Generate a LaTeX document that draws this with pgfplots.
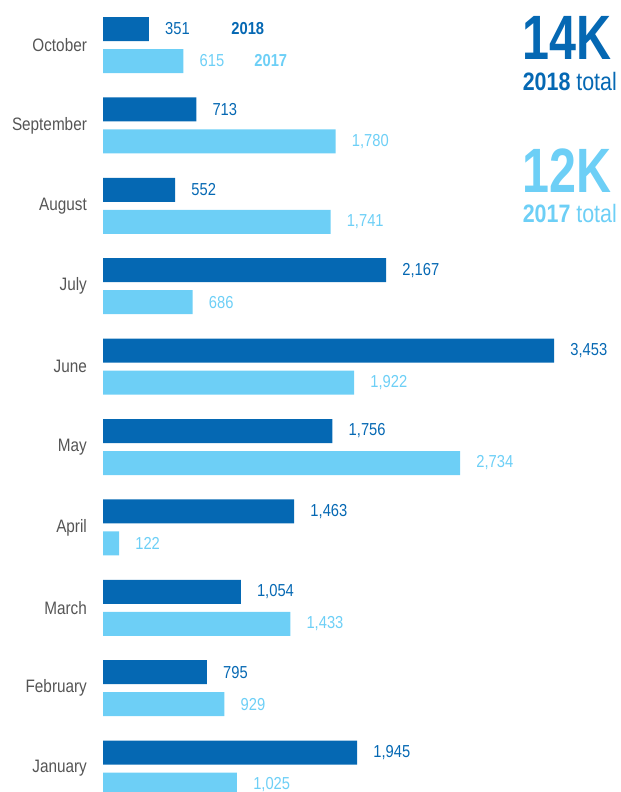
\documentclass[border=0pt]{standalone}
\usepackage{fontspec}
\setmainfont{Liberation Sans}[FakeStretch=0.85]
\usepackage{pgfplots}
\pgfplotsset{compat=1.18}
\definecolor{dark}{HTML}{0568B3}
\definecolor{light}{HTML}{6DCFF6}
\definecolor{txt}{HTML}{555555}

\begin{document}
\begin{tikzpicture}
\begin{axis}[
  scale only axis, width=465pt, height=594pt,
  xmin=-788.7, xmax=3958.7, ymin=-0.291, ymax=9.560,
  xbar, bar width=0.2985,
  axis line style={draw=none}, major tick length=0pt,
  xtick=\empty,
  ytick={0,...,9},
  yticklabels={January,February,March,April,May,June,July,August,September,October},
  yticklabel style={anchor=east, inner sep=0pt, xshift=65.25pt,
    font=\fontsize{13.5}{16}\selectfont, text=txt},
  point meta=x,
  nodes near coords,
  every node near coord/.append style={anchor=west, inner sep=0pt, xshift=12pt,
    font=\fontsize{13}{15}\selectfont},
  /pgf/number format/1000 sep={,},
  /pgf/number format/assume math mode=true,
]
% 2018
\addplot[fill=dark, draw=none, bar shift=0.199,
  every node near coord/.append style={text=dark}] coordinates {
  (1945,0) (795,1) (1054,2) (1463,3) (1756,4) (3453,5) (2167,6) (552,7) (713,8) (351,9)
};
% 2017
\addplot[fill=light, draw=none, bar shift=-0.199,
  every node near coord/.append style={text=light}] coordinates {
  (1025,0) (929,1) (1433,2) (122,3) (2734,4) (1922,5) (686,6) (1741,7) (1780,8) (615,9)
};

\node[anchor=west, inner sep=0pt, text=dark, font=\fontsize{13}{15}\selectfont\bfseries]
  at (axis cs:980,9.199) {2018};
\node[anchor=west, inner sep=0pt, text=light, font=\fontsize{13}{15}\selectfont\bfseries]
  at (axis cs:1156,8.801) {2017};

\node[anchor=base east, inner sep=0pt, text=dark, font=\fontsize{47}{50}\selectfont\bfseries]
  at (rel axis cs:0.98710,0.92424) {\scalebox{0.91}[1]{14K}};
\node[anchor=base east, inner sep=0pt, text=dark, font=\fontsize{18.9}{22}\selectfont]
  at (rel axis cs:0.99516,0.88510) {\textbf{2018} total};
\node[anchor=base east, inner sep=0pt, text=light, font=\fontsize{47}{50}\selectfont\bfseries]
  at (rel axis cs:0.98710,0.75631) {\scalebox{0.91}[1]{12K}};
\node[anchor=base east, inner sep=0pt, text=light, font=\fontsize{18.9}{22}\selectfont]
  at (rel axis cs:0.99516,0.71843) {\textbf{2017} total};
\end{axis}
\end{tikzpicture}
\end{document}
